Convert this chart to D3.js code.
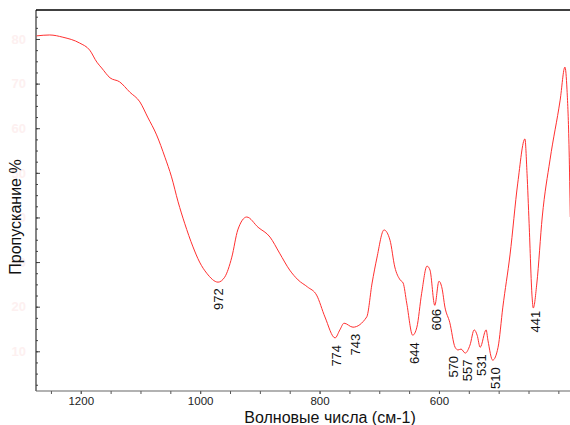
<!DOCTYPE html>
<html>
<head>
<meta charset="utf-8">
<script src="https://cdn.jsdelivr.net/npm/d3@7"></script>
<style>
  body { margin: 0; background: #fff; }
  text { font-family: "Liberation Sans", Arial, sans-serif; }
</style>
</head>
<body>
<div id="chart"></div>
<script>
// IR spectrum
const wavenumbers = [1274, 1252, 1230, 1202, 1185, 1173, 1165, 1151, 1135, 1118, 1101, 1088, 1073, 1059, 1048, 1037,
  1026, 1012, 1001, 989, 970, 959, 947, 937, 922, 903, 883, 867, 850, 836, 820, 805, 791, 774, 766, 759, 744,
  721, 712, 704, 692, 682, 674, 665, 660, 654, 644, 637, 629, 620, 615, 607, 600, 595, 590, 582, 573, 568,
  563, 556, 548, 541, 536, 531, 521, 518, 510, 501, 493, 481, 468, 456, 452.5, 449, 444, 442, 436, 427,
  414, 397, 389, 385.5, 382, 380];
const transmittance = [80.7, 80.9, 80.4, 79.1, 77.5, 74.8, 73.5, 71.3, 70.4, 68.1, 65.9, 62.5, 58.5, 53.5, 49.1, 43.5,
  38.7, 33.4, 30.0, 27.5, 25.5, 26.6, 31.1, 37.2, 40.1, 37.8, 35.6, 32.0, 28.2, 26.0, 24.4, 22.6, 17.7, 13.0, 14.8, 16.3, 15.4,
  17.7, 25.3, 30.9, 37.2, 34.9, 28.9, 26.0, 25.3, 20.8, 13.6, 15.4, 23.0, 29.1, 28.2, 20.3, 25.7, 24.2, 19.9, 16.5, 10.9, 10.3,
  10.5, 9.6, 11.4, 14.8, 13.6, 10.9, 14.8, 12.5, 8.0, 10.9, 19.9, 31.6, 47.7, 57.6, 49.9, 38.7, 22.2, 19.7, 25.3, 40.1,
  52.9, 66.3, 73.7, 68.6, 55.1, 40.1];
const peakLabels = [972, 774, 743, 644, 606, 570, 557, 531, 510, 441];
const yTickLabels = [80, 70, 60, 50, 40, 30, 20, 10];
const xTickLabels = [1200, 1000, 800, 600];

const data = wavenumbers.map((w, i) => ({ w: w, t: transmittance[i] }));

const W = 570, H = 425;
const margin = { top: 10, right: 0, bottom: 34, left: 36 };
const iw = W - margin.left - margin.right;
const ih = H - margin.top - margin.bottom;

const svg = d3.select("#chart").append("svg")
    .attr("width", W).attr("height", H);

const g = svg.append("g")
    .attr("transform", `translate(${margin.left},${margin.top})`);

const x = d3.scaleLinear().domain([1275, 380.5]).range([0, iw]);
const y = d3.scaleLinear().domain([1.1, 86.5]).range([ih, 0]);

svg.append("clipPath").attr("id", "clip")
  .append("rect").attr("width", iw).attr("height", ih);

// y axis: inside ticks, labels almost erased in the original
const yMinor = g.append("g")
    .call(d3.axisLeft(y).tickValues(d3.range(2.5, 86, 2.5)).tickSize(-2).tickFormat(""));
const yMajor = g.append("g")
    .call(d3.axisLeft(y).tickValues(yTickLabels).tickSize(-4).tickPadding(10));
yMajor.selectAll("text").attr("fill", "#fdf0f0").style("font-size", "13px").style("font-weight", "bold");
[yMinor, yMajor].forEach(a => {
  a.select(".domain").remove();
  a.selectAll("line").attr("stroke", "#444");
});
g.append("line").attr("x1", 0).attr("x2", 0).attr("y1", 0).attr("y2", ih)
  .attr("stroke", "#333").attr("stroke-width", 1.2);

// x axis
const xMinor = g.append("g").attr("transform", `translate(0,${ih})`)
    .call(d3.axisBottom(x).tickValues(d3.range(400, 1275, 50)).tickSize(3).tickFormat(""));
const xMajor = g.append("g").attr("transform", `translate(0,${ih})`)
    .call(d3.axisBottom(x).tickValues(xTickLabels).tickSize(3).tickPadding(3).tickFormat(d3.format("d")));
xMajor.selectAll("text").attr("fill", "#222").style("font-size", "11.5px");
[xMinor, xMajor].forEach(a => {
  a.select(".domain").remove();
  a.selectAll("line").attr("stroke", "#555");
});
g.append("line").attr("x1", 0).attr("x2", iw).attr("y1", ih).attr("y2", ih)
  .attr("stroke", "#666").attr("stroke-width", 1.2);

// top frame line
g.append("line").attr("x1", 0).attr("x2", iw).attr("y1", 0).attr("y2", 0)
  .attr("stroke", "#000").attr("stroke-width", 1.6);

// spectrum
const line = d3.line()
    .x(d => x(d.w))
    .y(d => y(d.t))
    .curve(d3.curveMonotoneX);

g.append("path")
    .datum(data)
    .attr("clip-path", "url(#clip)")
    .attr("fill", "none")
    .attr("stroke", "#ff3030")
    .attr("stroke-width", 1)
    .attr("d", line);

// peak labels under the minima
const nudge = { 570: -5, 557: 1, 531: 0, 510: 1 };
const tAt = w => {
  const i = d3.bisector(d => -d.w).left(data, -w);
  const a = data[Math.max(0, i - 1)], b = data[Math.min(data.length - 1, i)];
  if (a.w === b.w) return a.t;
  return a.t + (b.t - a.t) * (a.w - w) / (a.w - b.w);
};
g.selectAll(".peak")
  .data(peakLabels)
  .join("text")
    .attr("class", "peak")
    .attr("transform", d => `translate(${x(d) + 1.5 + (nudge[d] || 0)},${y(tAt(d)) + 7}) rotate(-90)`)
    .attr("dy", "0.35em")
    .attr("text-anchor", "end")
    .style("font-size", "13px")
    .attr("fill", "#111")
    .text(d => d);

// axis titles
svg.append("text")
    .attr("x", 330).attr("y", 423)
    .attr("text-anchor", "middle")
    .style("font-size", "16px")
    .attr("fill", "#111")
    .text("Волновые числа (см-1)");

svg.append("text")
    .attr("transform", "translate(15,217) rotate(-90)")
    .attr("dy", "0.35em")
    .attr("text-anchor", "middle")
    .style("font-size", "16px")
    .attr("fill", "#111")
    .text("Пропускание %");
</script>
</body>
</html>
